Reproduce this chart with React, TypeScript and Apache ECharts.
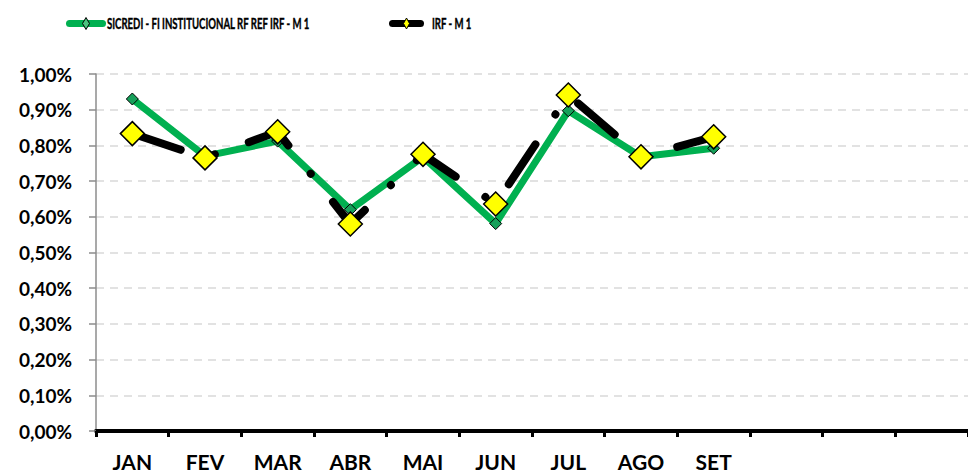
import React, { useEffect, useRef } from "react";
import * as echarts from "echarts";

const months = ["JAN", "FEV", "MAR", "ABR", "MAI", "JUN", "JUL", "AGO", "SET", "", " ", "  "];
const sicredi = [0.930, 0.770, 0.812, 0.620, 0.768, 0.581, 0.897, 0.768, 0.792];
const irf = [0.833, 0.765, 0.838, 0.580, 0.775, 0.636, 0.941, 0.768, 0.824];
const seriesNames = ["SICREDI - FI INSTITUCIONAL RF REF IRF - M 1", "IRF - M 1"];

const FONT = "Lato, 'Open Sans', sans-serif";

function legendItem(x0: number, x1: number, lineColor: string, diamondFill: string, dx: number, dy: number, textX: number, text: string) {
  const cy = 23.5;
  const cx = (x0 + x1) / 2;
  return [
    {
      type: "line",
      shape: { x1: x0 + 3.5, y1: cy, x2: x1 - 3.5, y2: cy },
      style: { stroke: lineColor, lineWidth: 7, lineCap: "round" },
    },
    {
      type: "polygon",
      shape: { points: [[cx, cy - dy], [cx + dx, cy], [cx, cy + dy], [cx - dx, cy]] },
      style: { fill: diamondFill, stroke: "#000", lineWidth: 1 },
    },
    {
      type: "text",
      x: textX,
      y: cy,
      scaleX: 0.64,
      style: {
        text,
        fill: "#000",
        stroke: "#000",
        lineWidth: 0.4,
        fontFamily: FONT,
        fontWeight: "bold",
        fontSize: 15,
        verticalAlign: "middle",
        align: "left",
      },
    },
  ];
}

export default function App() {
  const ref = useRef<HTMLDivElement>(null);
  useEffect(() => {
    const chart = echarts.init(ref.current!, null, { renderer: "svg" });
    chart.setOption({
      animation: false,
      backgroundColor: "#ffffff",
      textStyle: { fontFamily: FONT },
      graphic: [
        ...legendItem(66, 106, "#00b050", "#4cc47f", 3.5, 6, 107, seriesNames[0]),
        ...legendItem(389, 424, "#000000", "#ffff00", 3, 5.5, 432, seriesNames[1]),
      ],
      grid: { left: 96, top: 74, bottom: 42, width: 876, containLabel: false },
      xAxis: {
        type: "category",
        data: months,
        boundaryGap: true,
        axisLine: { lineStyle: { color: "#000", width: 4 } },
        axisTick: { show: true, length: 6, lineStyle: { color: "#000", width: 3 }, alignWithLabel: false },
        axisLabel: {
          interval: 0,
          margin: 20,
          fontFamily: FONT,
          fontWeight: "bold",
          fontSize: 21,
          color: "#000",
        },
      },
      yAxis: {
        type: "value",
        min: 0,
        max: 1,
        interval: 0.1,
        axisLine: { show: true, lineStyle: { color: "#8c8c8c", width: 1.5 } },
        axisTick: { show: true, length: 7, lineStyle: { color: "#8c8c8c", width: 1.5 } },
        splitLine: { show: true, lineStyle: { color: "#d9d9d9", type: [8, 6], width: 1.5 } },
        axisLabel: {
          margin: 24,
          fontFamily: FONT,
          fontWeight: "bold",
          fontSize: 19,
          color: "#000",
          formatter: (v: number) => v.toFixed(2).replace(".", ",") + "%",
        },
      },
      series: [
        {
          name: seriesNames[0],
          type: "line",
          data: sicredi,
          z: 2,
          symbol: "diamond",
          symbolSize: 12,
          lineStyle: { color: "#00b050", width: 7 },
          itemStyle: { color: "#16a05a", borderColor: "#000", borderWidth: 1 },
        },
        {
          name: seriesNames[1],
          type: "line",
          data: irf,
          z: 3,
          symbol: "diamond",
          symbolSize: 24,
          lineStyle: { color: "#000", width: 8, type: [48, 36, 0.1, 36], dashOffset: -3, cap: "round" },
          itemStyle: { color: "#ffff00", borderColor: "#000", borderWidth: 1.5 },
        },
      ],
    });
    return () => chart.dispose();
  }, []);
  return <div ref={ref} style={{ position: "fixed", left: 0, top: 0, width: 968, height: 473 }} />;
}
